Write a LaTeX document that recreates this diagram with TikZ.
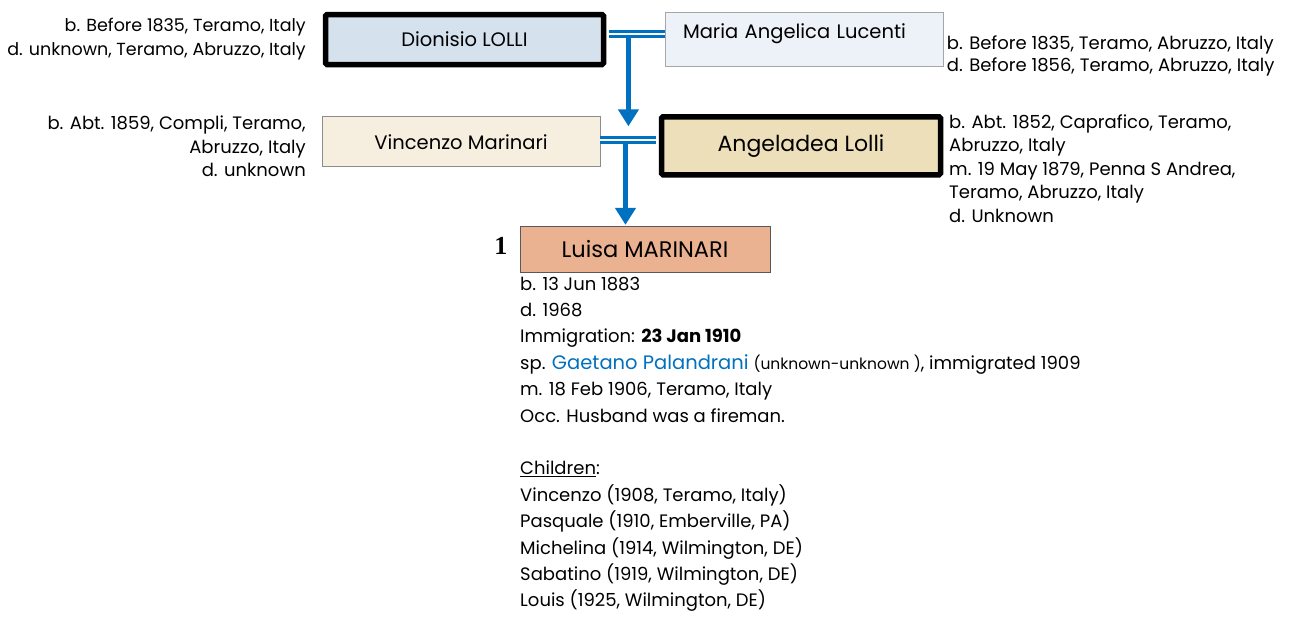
\documentclass[tikz,border=0pt]{standalone}
\usepackage{fontspec}
\setmainfont{Poppins}
\newfontfamily\numfont{Liberation Serif}
\usetikzlibrary{arrows.meta,calc,positioning}
\definecolor{linkblue}{HTML}{0070C0}
\definecolor{dionfill}{HTML}{D5E1ED}
\definecolor{mariafill}{HTML}{EDF1F8}
\definecolor{vincfill}{HTML}{F6EEDE}
\definecolor{angfill}{HTML}{EEDFBB}
\definecolor{luisafill}{HTML}{EBB291}

\begin{document}
\begin{tikzpicture}[x=1pt,y=-1pt,
  thinbox/.style={draw=black!35, line width=0.8pt, minimum width=278pt, minimum height=50pt, inner sep=0pt, font=\fontsize{19.5}{22}\selectfont},
  keybox/.style={draw=black, line width=5.5pt, rounded corners=1.5pt, minimum width=278pt, minimum height=50pt, inner sep=0pt, font=\fontsize{19.5}{22}\selectfont},
  info/.style={inner sep=0pt, font=\fontsize{18}{24}\selectfont},
  marr/.style={draw=linkblue, double=white, double distance=2.3pt, line width=2.7pt},
  desc/.style={draw=linkblue, line width=5.5pt, -{Triangle[width=20pt,length=17pt]}}]
\useasboundingbox[fill=white] (0,0) rectangle (1292,616);

% grandparents
\node[keybox, fill=dionfill] (dion) at (464.5,39.5) {Dionisio LOLLI};
\node[thinbox, fill=mariafill, minimum height=54pt, text depth=16pt, text width=242pt, align=left] (maria) at (804,39.5) {Maria Angelica Lucenti};
\node[info, anchor=north east, align=right, font=\fontsize{17.5}{24}\selectfont] (diontxt) at (306,17.6) {b. Before 1835, Teramo, Italy\\d. unknown, Teramo, Abruzzo, Italy};
\node[info, anchor=north west, align=left, font=\fontsize{18}{22.4}\selectfont] (mariatxt) at (946.7,35.3) {b. Before 1835, Teramo, Abruzzo, Italy\\d. Before 1856, Teramo, Abruzzo, Italy};

% parents
\node[thinbox, draw=black!45, fill=vincfill] (vinc) at (461,141.7) {Vincenzo Marinari};
\node[keybox, fill=angfill, minimum width=279pt, minimum height=58pt, font=\fontsize{22}{24}\selectfont] (ang) at (801,145.8) {Angeladea Lolli};
\node[info, anchor=north east, align=right, font=\fontsize{18}{23.3}\selectfont] (vinctxt) at (306,116) {b. Abt. 1859, Compli, Teramo,\\Abruzzo, Italy\\d. unknown};
\node[info, anchor=north west, align=left, font=\fontsize{18}{23.4}\selectfont] (angtxt) at (949,114.5) {b. Abt. 1852, Caprafico, Teramo,\\Abruzzo, Italy\\m. 19 May 1879, Penna S Andrea,\\Teramo, Abruzzo, Italy\\d. Unknown};

% subject
\node[thinbox, draw=black!65, fill=luisafill, minimum width=250pt, minimum height=46.5pt, font=\fontsize{22.5}{24}\selectfont] (luisa) at (645,249.5) {Luisa MARINARI};
\node[inner sep=0pt, left=12pt of luisa, yshift=4pt, font=\numfont\bfseries\fontsize{26}{26}\selectfont] (num) {1};
\node[info, anchor=north west, align=left, font=\fontsize{18}{26.4}\selectfont] (luisatxt) at (520,276.5) {b. 13 Jun 1883\\d. 1968\\Immigration: \textbf{23 Jan 1910}\\sp. {\fontsize{19.5}{20}\selectfont\color{linkblue}Gaetano Palandrani} {\fontsize{15.5}{16}\selectfont(unknown-unknown )}, immigrated 1909\\m. 18 Feb 1906, Teramo, Italy\\Occ. Husband was a fireman.\\\mbox{}\\\underline{Children}:\\Vincenzo (1908, Teramo, Italy)\\Pasquale (1910, Emberville, PA)\\Michelina (1914, Wilmington, DE)\\Sabatino (1919, Wilmington, DE)\\Louis (1925, Wilmington, DE)};

% connectors
\coordinate[yshift=5.7pt] (m1) at ($(dion.east)!0.38!(maria.west)$);
\coordinate (a1) at ($(m1 |- vinc.north)+(0,10)$);
\coordinate[yshift=1.4pt] (w2) at (vinc.east);
\coordinate (m2) at ($(w2)!0.43!(w2 -| ang.west)$);
\draw[desc] (m1) -- (a1);
\draw[desc, shorten >=1pt] (m2) -- (m2 |- luisa.north);
\draw[marr, shorten <=2.75pt] ([yshift=5.7pt]dion.east) -- ([yshift=5.7pt]maria.west);
\draw[marr, shorten >=2.75pt] (w2) -- (w2 -| ang.west);
\end{tikzpicture}
\end{document}
